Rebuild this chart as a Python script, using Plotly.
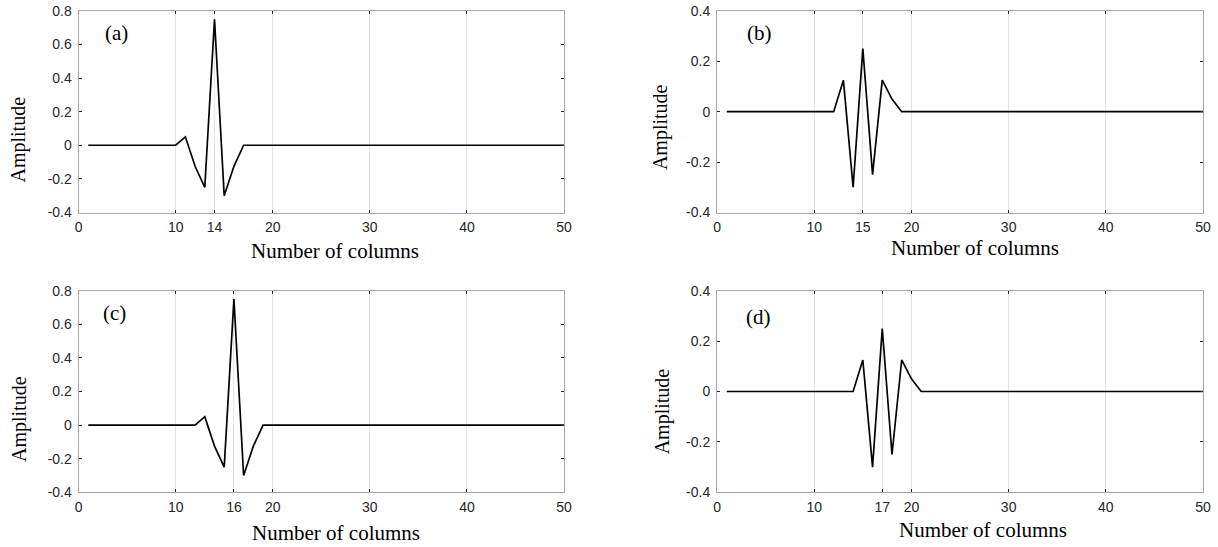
import plotly.graph_objects as go
from plotly.subplots import make_subplots

# column index (1..50)
cols = list(range(1, 51))

amp_a = [0, 0, 0, 0, 0, 0, 0, 0, 0, 0,
         0.05, -0.125, -0.25, 0.75, -0.3, -0.125, 0, 0, 0, 0,
         0, 0, 0, 0, 0, 0, 0, 0, 0, 0,
         0, 0, 0, 0, 0, 0, 0, 0, 0, 0,
         0, 0, 0, 0, 0, 0, 0, 0, 0, 0]
amp_b = [0, 0, 0, 0, 0, 0, 0, 0, 0, 0,
         0, 0, 0.125, -0.3, 0.25, -0.25, 0.125, 0.05, 0, 0,
         0, 0, 0, 0, 0, 0, 0, 0, 0, 0,
         0, 0, 0, 0, 0, 0, 0, 0, 0, 0,
         0, 0, 0, 0, 0, 0, 0, 0, 0, 0]
amp_c = [0, 0, 0, 0, 0, 0, 0, 0, 0, 0,
         0, 0, 0.05, -0.125, -0.25, 0.75, -0.3, -0.125, 0, 0,
         0, 0, 0, 0, 0, 0, 0, 0, 0, 0,
         0, 0, 0, 0, 0, 0, 0, 0, 0, 0,
         0, 0, 0, 0, 0, 0, 0, 0, 0, 0]
amp_d = [0, 0, 0, 0, 0, 0, 0, 0, 0, 0,
         0, 0, 0, 0, 0.125, -0.3, 0.25, -0.25, 0.125, 0.05,
         0, 0, 0, 0, 0, 0, 0, 0, 0, 0,
         0, 0, 0, 0, 0, 0, 0, 0, 0, 0,
         0, 0, 0, 0, 0, 0, 0, 0, 0, 0]

xticks_a = [0, 10, 14, 20, 30, 40, 50]
xticks_b = [0, 10, 15, 20, 30, 40, 50]
xticks_c = [0, 10, 16, 20, 30, 40, 50]
xticks_d = [0, 10, 17, 20, 30, 40, 50]

yticks_big = [-0.4, -0.2, 0, 0.2, 0.4, 0.6, 0.8]
yticks_small = [-0.4, -0.2, 0, 0.2, 0.4]

panels = [
    ("(a)", amp_a, xticks_a, yticks_big, 1, 1),
    ("(b)", amp_b, xticks_b, yticks_small, 1, 2),
    ("(c)", amp_c, xticks_c, yticks_big, 2, 1),
    ("(d)", amp_d, xticks_d, yticks_small, 2, 2),
]

fig = make_subplots(rows=2, cols=2)

serif = "Liberation Serif, Times New Roman, serif"
sans = "Liberation Sans, Arial, sans-serif"

xdom = {1: [0.0645, 0.4631], 2: [0.5887, 0.9877]}
ydom = {1: [0.6115, 0.9803], 2: [0.1000, 0.4686]}
tag_pos = {(1, 1): (0.051, 0.89), (1, 2): (0.058, 0.89),
           (2, 1): (0.047, 0.89), (2, 2): (0.056, 0.87)}
ylab_pos = {(1, 1): (0.0148, 0.745), (1, 2): (0.5422, 0.7684),
            (2, 1): (0.0156, 0.234), (2, 2): (0.5438, 0.2486)}
xlab_pos = {(1, 1): (0.2750, 0.542), (1, 2): (0.8009, 0.5461),
            (2, 1): (0.2757, 0.025), (2, 2): (0.8071, 0.0311)}

for i, (tag, amp, xt, yt, r, c) in enumerate(panels):
    fig.add_trace(go.Scatter(x=cols, y=amp, mode="lines",
                             line=dict(color="black", width=1.7),
                             showlegend=False), row=r, col=c)
    fig.update_xaxes(range=[0, 50], tickvals=xt, ticktext=[str(v) for v in xt],
                     domain=xdom[c], showgrid=True, gridcolor="#e3e3e3", gridwidth=1,
                     showline=True, linecolor="#a6a6a6", linewidth=1, mirror="ticks",
                     ticks="inside", ticklen=3, tickcolor="#262626", automargin=False,
                     ticklabelstandoff=2, zeroline=False,
                     tickfont=dict(family=sans, size=14, color="#262626"),
                     row=r, col=c)
    fig.update_yaxes(range=[yt[0], yt[-1]], tickvals=yt,
                     ticktext=["0" if v == 0 else f"{v:.1f}" for v in yt],
                     domain=ydom[r], showgrid=False, automargin=False,
                     showline=True, linecolor="#a6a6a6", linewidth=1, mirror="ticks",
                     ticks="inside", ticklen=3, tickcolor="#262626",
                     ticklabelstandoff=3, zeroline=False,
                     tickfont=dict(family=sans, size=14, color="#262626"),
                     row=r, col=c)
    axn = "" if i == 0 else str(i + 1)
    tx, ty = tag_pos[(r, c)]
    fig.add_annotation(text=tag, xref=f"x{axn} domain", yref=f"y{axn} domain",
                       x=tx, y=ty, xanchor="left", yanchor="middle", showarrow=False,
                       font=dict(family=serif, size=21, color="black"))
    lx, ly = ylab_pos[(r, c)]
    fig.add_annotation(text="Amplitude", xref="paper", yref="paper", x=lx, y=ly,
                       xanchor="center", yanchor="middle", textangle=-90, showarrow=False,
                       font=dict(family=serif, size=20, color="black"))
    nx, ny = xlab_pos[(r, c)]
    fig.add_annotation(text="Number of columns", xref="paper", yref="paper", x=nx, y=ny,
                       xanchor="center", yanchor="middle", showarrow=False,
                       font=dict(family=serif, size=21, color="black"))

fig.update_layout(width=1218, height=547, margin=dict(l=0, r=0, t=0, b=0),
                  paper_bgcolor="white", plot_bgcolor="white")

# drop the default 8px body margin so the figure sits flush in the window
fig.write_html("out.html", config={"displayModeBar": False},
               post_script="document.body.style.margin='0px';")
